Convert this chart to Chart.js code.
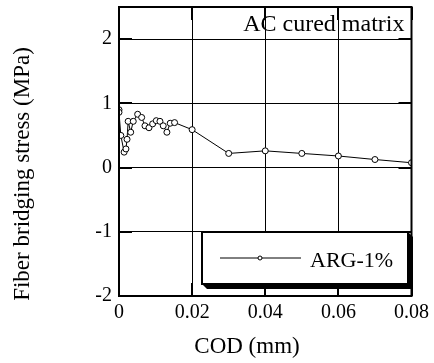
<!DOCTYPE html>
<html>
<head>
<meta charset="utf-8">
<script src="https://cdn.jsdelivr.net/npm/chart.js@4/dist/chart.umd.min.js"></script>
<style>
  html, body { margin: 0; padding: 0; background: #fff; }
</style>
</head>
<body>
<canvas id="chart" width="434" height="363"></canvas>
<script>
// COD (mm) vs fiber bridging stress (MPa)
const codValues = [0, 0, 0.0005, 0.0014, 0.0019, 0.0022, 0.0025, 0.0032, 0.0039, 0.0051, 0.0062, 0.0071, 0.0082, 0.0092, 0.0102, 0.0112, 0.0121, 0.0131, 0.014, 0.0152, 0.02, 0.03, 0.04, 0.05, 0.06, 0.07, 0.08];
const stressValues = [0.9, 0.86, 0.5, 0.24, 0.29, 0.44, 0.72, 0.55, 0.72, 0.83, 0.78, 0.65, 0.62, 0.68, 0.73, 0.72, 0.65, 0.55, 0.69, 0.70, 0.59, 0.22, 0.26, 0.22, 0.18, 0.125, 0.075];
const xTicks = [0, 0.02, 0.04, 0.06, 0.08];
const yTicks = [-2, -1, 0, 1, 2];
const seriesLabel = 'ARG-1%';
const noteText = 'AC cured matrix';
const xTitle = 'COD (mm)';
const yTitle = 'Fiber bridging stress (MPa)';

const serif = "'Liberation Serif', 'DejaVu Serif', serif";

// frame, inner tick marks, titles, annotation and boxed legend
const framePlugin = {
    id: 'frame',
    afterDatasetsDraw(chart) {
        const ctx = chart.ctx;
        const a = chart.chartArea;
        const xs = chart.scales.x, ys = chart.scales.y;
        ctx.save();
        ctx.strokeStyle = '#000';
        ctx.lineWidth = 2;
        ctx.beginPath();
        yTicks.forEach(v => {
            const py = Math.round(ys.getPixelForValue(v));
            ctx.moveTo(a.left, py); ctx.lineTo(a.left + 13, py);
            ctx.moveTo(a.right, py); ctx.lineTo(a.right - 13, py);
        });
        xTicks.forEach(v => {
            const px = Math.round(xs.getPixelForValue(v));
            ctx.moveTo(px, a.bottom); ctx.lineTo(px, a.bottom - 13);
            ctx.moveTo(px, a.top); ctx.lineTo(px, a.top + 13);
        });
        ctx.stroke();
        ctx.strokeRect(a.left, a.top, a.right - a.left, a.bottom - a.top);

        ctx.fillStyle = '#000';
        // axis titles
        ctx.font = '23px ' + serif;
        ctx.textAlign = 'center';
        ctx.textBaseline = 'alphabetic';
        ctx.fillText(xTitle, 247, 353);
        ctx.save();
        ctx.translate(23, 174);
        ctx.rotate(-Math.PI / 2);
        ctx.textBaseline = 'middle';
        ctx.fillText(yTitle, 0, 0);
        ctx.restore();

        // annotation
        ctx.font = '24px ' + serif;
        ctx.textAlign = 'right';
        ctx.textBaseline = 'alphabetic';
        ctx.fillText(noteText, a.right - 7, a.top + 24);

        // legend box with shadow
        const bx = 202, by = 232, bw = 206, bh = 52;
        ctx.beginPath();
        ctx.moveTo(bx, by + bh);
        ctx.lineTo(bx + 5, by + bh + 5);
        ctx.lineTo(bx + bw + 5, by + bh + 5);
        ctx.lineTo(bx + bw + 5, by + 5);
        ctx.lineTo(bx + bw, by);
        ctx.closePath();
        ctx.fill();
        ctx.fillStyle = '#fff';
        ctx.fillRect(bx, by, bw, bh);
        ctx.lineWidth = 2;
        ctx.strokeRect(bx, by, bw, bh);
        const ly = by + 26;
        ctx.lineWidth = 1;
        ctx.beginPath();
        ctx.moveTo(bx + 18, ly); ctx.lineTo(bx + 99, ly);
        ctx.stroke();
        ctx.beginPath();
        ctx.arc(bx + 58, ly, 2, 0, Math.PI * 2);
        ctx.fill();
        ctx.stroke();
        ctx.fillStyle = '#000';
        ctx.font = '22px ' + serif;
        ctx.textAlign = 'left';
        ctx.textBaseline = 'alphabetic';
        ctx.fillText(chart.data.datasets[0].label, bx + 108, 267);
        ctx.restore();
    }
};

new Chart(document.getElementById('chart'), {
    type: 'line',
    data: {
        datasets: [{
            label: seriesLabel,
            data: codValues.map((x, i) => ({ x: x, y: stressValues[i] })),
            borderColor: '#000',
            borderWidth: 1,
            pointRadius: 3,
            pointBorderWidth: 1,
            pointBackgroundColor: '#fff',
            pointBorderColor: '#000',
            tension: 0,
            clip: 0
        }]
    },
    options: {
        responsive: false,
        animation: false,
        layout: { padding: { top: 7, right: 21, left: 0, bottom: 0 } },
        plugins: {
            legend: { display: false },
            tooltip: { enabled: false }
        },
        scales: {
            x: {
                type: 'linear',
                min: 0,
                max: 0.08,
                afterBuildTicks: axis => { axis.ticks = xTicks.map(v => ({ value: v })); },
                afterFit: axis => { axis.height = 67; },
                grid: { color: '#000', lineWidth: 1, drawTicks: false },
                border: { display: false },
                ticks: {
                    color: '#000',
                    padding: 5,
                    maxRotation: 0,
                    font: { family: serif, size: 20 },
                    callback: v => String(v)
                }
            },
            y: {
                type: 'linear',
                min: -2,
                max: 2.5,
                afterBuildTicks: axis => { axis.ticks = yTicks.map(v => ({ value: v })); },
                afterFit: axis => {
                    axis.width = 119;
                    axis.paddingTop = 0;
                    axis.paddingBottom = 0;
                },
                grid: { color: '#000', lineWidth: 1, drawTicks: false },
                border: { display: false },
                ticks: {
                    color: '#000',
                    padding: 7,
                    font: { family: serif, size: 20 },
                    callback: v => String(v)
                }
            }
        }
    },
    plugins: [framePlugin]
});
</script>
</body>
</html>
